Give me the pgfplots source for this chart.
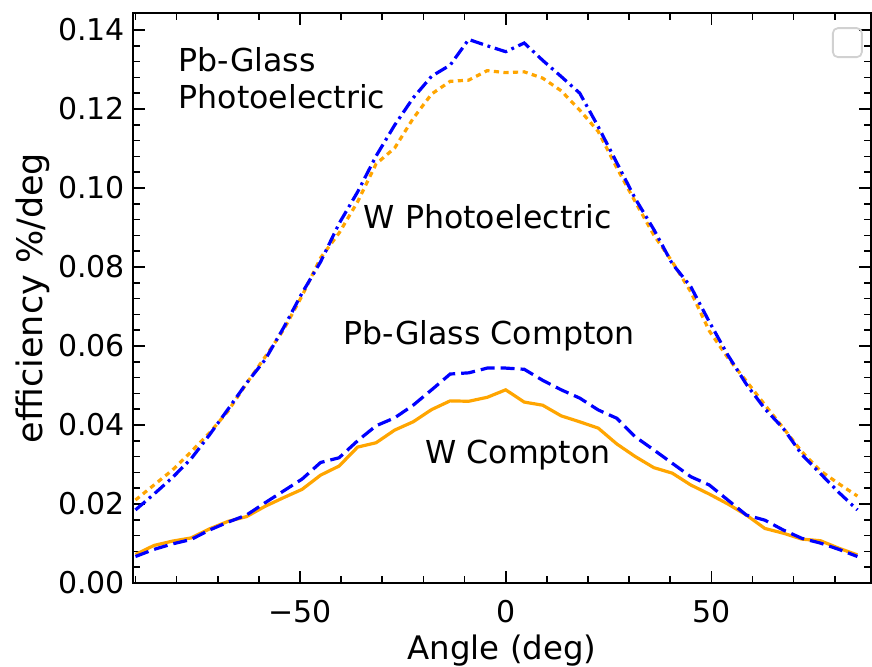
\documentclass[border=0pt]{standalone}
\usepackage{fontspec}
\setmainfont{DejaVu Sans}
\usepackage{pgfplots}
\usepackage{pgfplotstable}
\pgfplotsset{compat=1.18}
\usetikzlibrary{calc}

\definecolor{mplorange}{RGB}{255,165,0}
\definecolor{mplblue}{RGB}{0,0,255}

% angle, photo (blue dashdot), photo (orange dotted), compton (blue dashed), compton (orange solid)
\pgfplotstableread{
x     peA     peB     coA     coB
-90   0.0185  0.0210  0.0067  0.0072
-85.5 0.0225  0.0248  0.0085  0.0095
-81   0.0267  0.0286  0.0099  0.0106
-76.5 0.0314  0.0332  0.0110  0.0114
-72   0.0375  0.0380  0.0134  0.0137
-67.5 0.0440  0.0435  0.0154  0.0156
-63   0.0506  0.0505  0.0172  0.0168
-58.5 0.0565  0.0572  0.0203  0.0194
-54   0.0646  0.0641  0.0233  0.0216
-49.5 0.0734  0.0727  0.0263  0.0237
-45   0.0813  0.0823  0.0305  0.0273
-40.5 0.0910  0.0886  0.0317  0.0296
-36   0.0990  0.0965  0.0360  0.0344
-31.5 0.1081  0.1061  0.0398  0.0355
-27   0.1159  0.1101  0.0418  0.0387
-22.5 0.1228  0.1176  0.0450  0.0408
-18   0.1283  0.1238  0.0489  0.0439
-13.5 0.1311  0.1270  0.0529  0.0461
-9    0.1376  0.1273  0.0532  0.0460
-4.5  0.1360  0.1297  0.0544  0.0470
0     0.1345  0.1292  0.0544  0.0489
4.5   0.1367  0.1294  0.0541  0.0458
9     0.1323  0.1278  0.0513  0.0450
13.5  0.1282  0.1246  0.0489  0.0423
18    0.1240  0.1197  0.0468  0.0408
22.5  0.1155  0.1143  0.0438  0.0392
27    0.1064  0.1051  0.0417  0.0352
31.5  0.0973  0.0965  0.0370  0.0320
36    0.0895  0.0881  0.0337  0.0292
40.5  0.0808  0.0813  0.0303  0.0278
45    0.0750  0.0737  0.0269  0.0248
49.5  0.0661  0.0638  0.0248  0.0225
54    0.0577  0.0570  0.0210  0.0200
58.5  0.0503  0.0511  0.0172  0.0172
63    0.0441  0.0451  0.0159  0.0138
67.5  0.0391  0.0392  0.0134  0.0126
72    0.0325  0.0332  0.0113  0.0111
76.5  0.0277  0.0284  0.0101  0.0107
81    0.0229  0.0251  0.0085  0.0088
85.5  0.0185  0.0220  0.0067  0.0071
}\effdata

\begin{document}
\begin{tikzpicture}
\begin{axis}[
    scale only axis,
    width=369pt, height=285pt,
    xmin=-90.6, xmax=88.8,
    ymin=0, ymax=0.1443,
    axis line style={line width=0.9pt},
    tick align=inside,
    major tick length=6pt,
    minor tick length=3.5pt,
    every tick/.style={black, line width=0.8pt},
    xtick={-50,0,50},
    xticklabels={−50,0,50},
    minor xtick={-90,-80,-70,-60,-40,-30,-20,-10,10,20,30,40,60,70,80},
    ytick={0,0.02,0.04,0.06,0.08,0.10,0.12,0.14},
    yticklabels={0.00,0.02,0.04,0.06,0.08,0.10,0.12,0.14},
    minor y tick num=4,
    ticklabel style={font=\fontsize{15}{17}\selectfont},
    xticklabel style={anchor=base, yshift=-20pt},
    yticklabel style={anchor=east, xshift=-0.5pt},
    xlabel={Angle (deg)},
    ylabel={efficiency \%/deg},
    xlabel style={font=\fontsize{16.2}{18}\selectfont, at={(axis description cs:0.5,0)}, anchor=base, yshift=-38.5pt},
    ylabel style={font=\fontsize{17.5}{20}\selectfont, at={(axis description cs:-0.1355,0.5)}, anchor=center},
    clip=false,
]
\addplot[mplorange, line width=1.6pt, dash pattern=on 2.6pt off 2.2pt] table[x=x, y=peB] {\effdata};
\addplot[mplblue, line width=1.6pt, dash pattern=on 6.5pt off 2.4pt on 1.4pt off 2.4pt] table[x=x, y=peA] {\effdata};
\addplot[mplorange, line width=1.6pt] table[x=x, y=coB] {\effdata};
\addplot[mplblue, line width=1.6pt, dash pattern=on 7pt off 3pt] table[x=x, y=coA] {\effdata};

\node[anchor=base west, inner sep=0, font=\fontsize{15.8}{18}\selectfont] at (axis cs:-79.6,0.1296) {Pb-Glass};
\node[anchor=base west, inner sep=0, font=\fontsize{15.8}{18}\selectfont] at (axis cs:-79.6,0.1202) {Photoelectric};
\node[anchor=base west, inner sep=0, font=\fontsize{15.8}{18}\selectfont] at (axis cs:-34.6,0.0898) {W Photoelectric};
\node[anchor=base west, inner sep=0, font=\fontsize{15.8}{18}\selectfont] at (axis cs:-39.5,0.0603) {Pb-Glass Compton};
\node[anchor=base west, inner sep=0, font=\fontsize{15.8}{18}\selectfont] at (axis cs:-19.6,0.0303) {W Compton};

% empty legend frame
\node[draw=black!18, line width=0.9pt, rounded corners=2.5pt, minimum size=14.5pt, inner sep=0] at (rel axis cs:0.968,0.948) {};
\end{axis}
\pgfresetboundingbox
\path[use as bounding box] ($(current axis.south west)+(-66.5pt,-42pt)$) rectangle ($(current axis.north east)+(0.5pt,6.5pt)$);
\end{tikzpicture}
\end{document}
